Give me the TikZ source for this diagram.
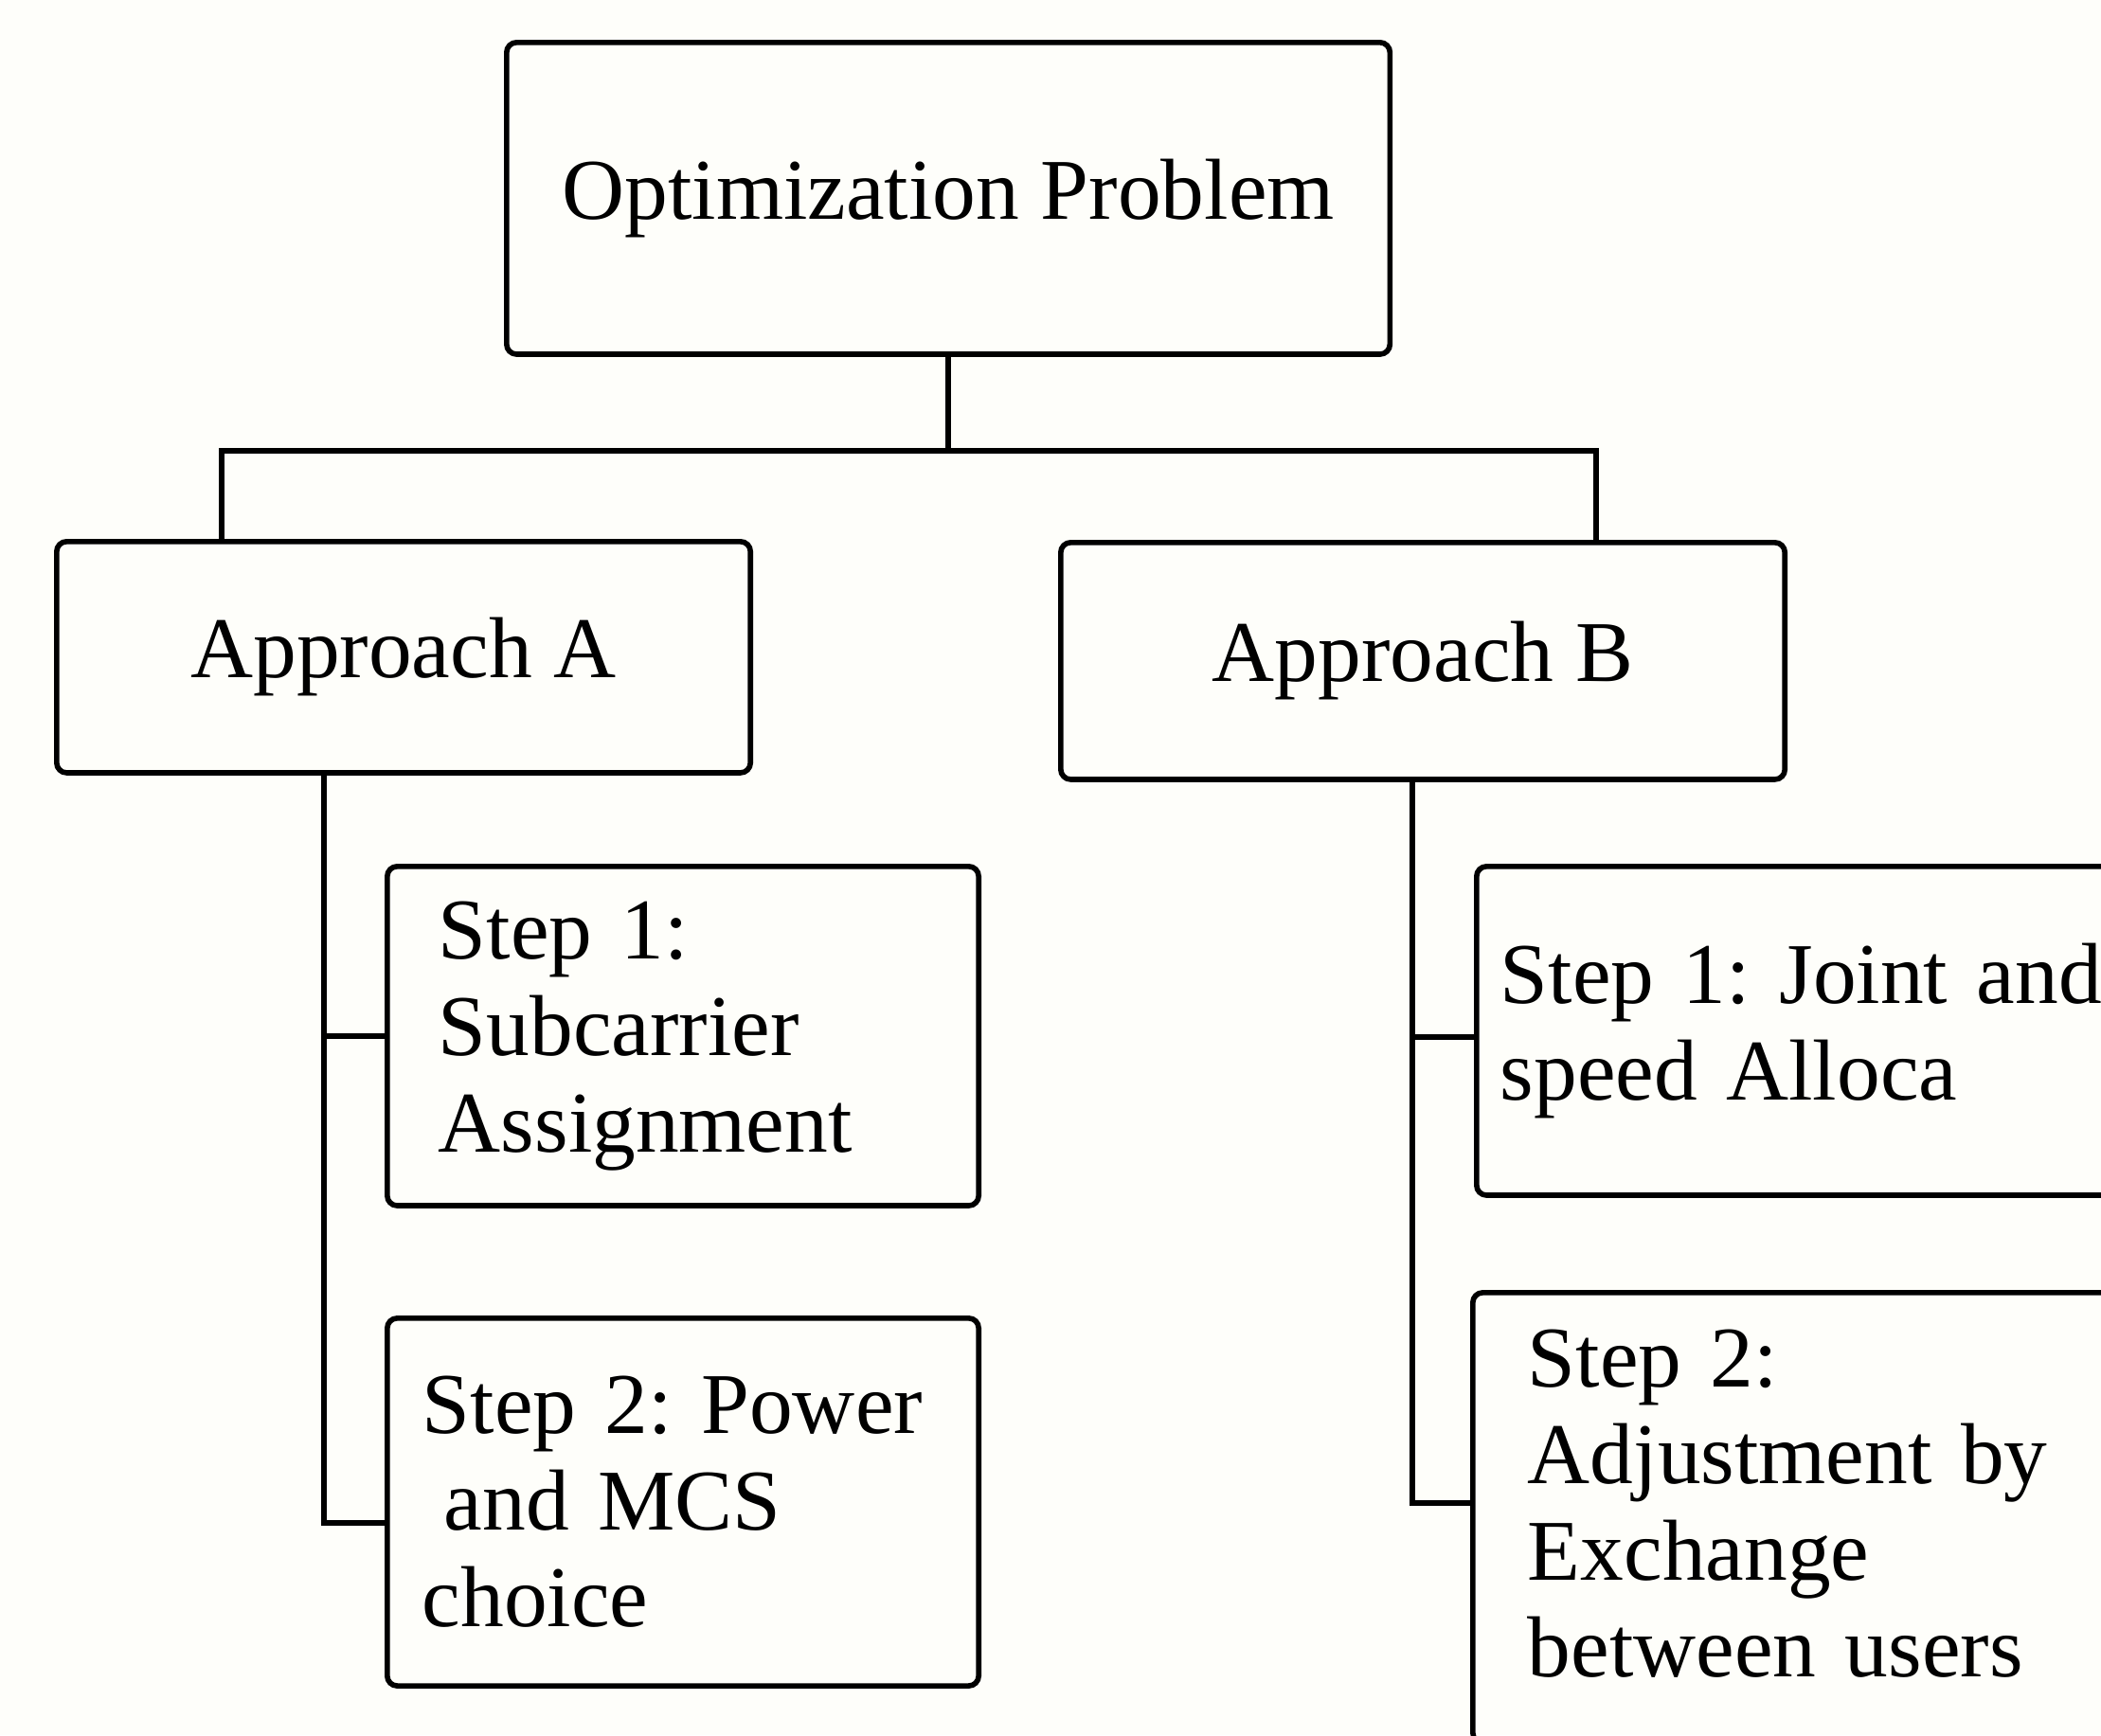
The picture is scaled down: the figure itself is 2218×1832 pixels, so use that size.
\documentclass[tikz,border=0pt]{standalone}
\usepackage{fontspec}
\setmainfont{Liberation Serif}
\frenchspacing
\definecolor{paper}{RGB}{254,254,250}
\newcommand{\bigtxt}{\fontsize{26}{29}\selectfont}

\begin{document}
\begin{tikzpicture}[x=0.01cm,y=-0.01cm,
  box/.style={draw,line width=1.6pt,rounded corners=3pt,anchor=north west,font=\bigtxt,inner sep=0pt},
  stepbox/.style={box,align=left},
  link/.style={line width=1.7pt}]
  \useasboundingbox (0,0) rectangle (2218,1832);
  \clip (0,0) rectangle (2218,1832);
  \fill[paper] (0,0) rectangle (2218,1832);
  % boxes
  \node[box,minimum width=9.32cm,minimum height=3.29cm] (prob) at (532,42) {Optimization Problem};
  \node[box,minimum width=7.32cm,minimum height=2.44cm] (appA) at (57,569) {Approach A};
  \node[box,minimum width=7.64cm,minimum height=2.50cm] (appB) at (1117,570) {Approach B};
  \node[stepbox,minimum height=3.58cm,inner xsep=0.54cm,text width=5.16cm] (s1a) at (406,912)
    {Step 1:\\Subcarrier\\Assignment};
  \node[stepbox,minimum height=3.88cm,inner xsep=0.37cm,text width=5.50cm] (s2a) at (406,1389)
    {Step 2: Power\\\hspace*{0.25em}and MCS\\choice};
  \node[stepbox,minimum height=3.47cm,inner xsep=0.25cm,text width=6.50cm] (s1b) at (1556,912)
    {Step 1: Joint and\\speed Alloca};
  \node[stepbox,minimum height=4.75cm,inner xsep=0.58cm,text width=6.00cm] (s2b) at (1552,1362)
    {Step 2:\\Adjustment by\\Exchange\\\rule[-0.3cm]{0pt}{0.3cm}between users};
  % connectors
  \coordinate (bus) at ([yshift=-0.99cm]prob.south);
  \draw[link] (prob.south) -- (bus);
  \draw[link] ([xshift=-1.92cm]appA.north) |- (bus) -| ([xshift=1.83cm]appB.north);
  \draw[link] ([xshift=-0.84cm]appA.south) |- ([yshift=-0.22cm]s2a.west);
  \draw[link] (s1a.west) -- ++(-67,0);
  \draw[link] ([xshift=-0.11cm]appB.south) |- ([yshift=0.155cm]s2b.west);
  \draw[link] ([yshift=-0.07cm]s1b.west) -- ++(-68,0);
\end{tikzpicture}
\end{document}
